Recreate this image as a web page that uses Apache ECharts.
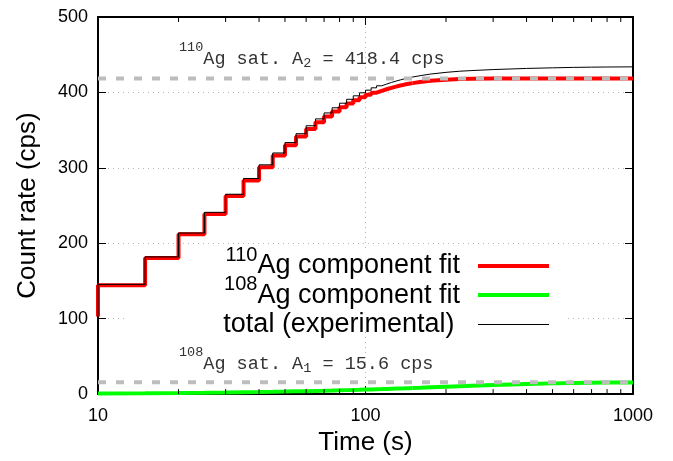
<!DOCTYPE html>
<html>
<head>
<meta charset="utf-8">
<script src="https://cdn.jsdelivr.net/npm/echarts@6/dist/echarts.min.js"></script>
<style>html,body{margin:0;padding:0;background:#fff;}#c{width:673px;height:461px;}</style>
</head>
<body>
<div id="c"></div>
<script>
// ---- data ----
const stepTimes = [10,15,20,25,30,35,40,45,50,55,60,65,70,75,80,85,90,95,100,105,110,115,120,125,130,135,140,145,150];
const ag110Step = [102.9,144.4,180.5,211.8,238.9,262.6,283.1,300.9,316.3,329.8,341.4,351.6,360.4,368.0,374.6,380.4,385.4,389.7,393.5,396.8,399.6,402.1,404.2,406.1,407.7,409.1,410.4,411.4,412.3];
const ag108Step = [0.74,1.10,1.44,1.78,2.11,2.44,2.75,3.06,3.36,3.66,3.94,4.22,4.49,4.76,5.02,5.27,5.52,5.76,6.00,6.23,6.45,6.67,6.89,7.10,7.30,7.50,7.69,7.88,8.07];
const totalStep = [103.6,145.5,181.9,213.6,241.0,265.0,285.9,304.0,319.7,333.5,345.3,355.8,364.9,372.8,379.6,385.7,390.9,395.5,399.5,403.0,406.1,408.8,411.1,413.2,415.0,416.6,418.1,419.3,420.4];
const tailTimes = [150,160,175,200,225,250,300,350,400,500,600,700,800,1000];
const ag110Tail = [412.3,413.8,415.4,416.9,417.7,418.0,418.3,418.4,418.4,418.4,418.4,418.4,418.4,418.4];
const ag108Tail = [8.07,8.42,8.93,9.69,10.37,10.96,11.96,12.75,13.36,14.22,14.75,15.08,15.28,15.48];
const totalTail = [420.4,422.2,424.3,426.6,428.1,429.0,430.3,431.1,431.8,432.6,433.2,433.5,433.7,433.9];
const satA2 = 418.4;
const satA1 = 15.6;
const xRange = [10, 1000];
const yTicks = [0, 100, 200, 300, 400, 500];
const minorXTicks = [20,30,40,50,60,70,80,90,200,300,400,500,600,700,800,900];
const seriesNames = ['110Ag component fit', '108Ag component fit', 'total (experimental)'];

const pairs = (xs, ys) => xs.map((x, i) => [x, ys[i]]);

const SANS = '"Liberation Sans", Arial, sans-serif';
const MONO = '"Liberation Mono", "Courier New", monospace';

const chart = echarts.init(document.getElementById('c'), null, {renderer: 'canvas'});

const legendRich = {
  n: {fontSize: 27, fontFamily: SANS, color: '#000', lineHeight: 27, verticalAlign: 'bottom'},
  s: {fontSize: 20, fontFamily: SANS, color: '#000', lineHeight: 20, padding: [0,0,14,0], verticalAlign: 'bottom'}
};
function legendFmt(name) {
  if (name.indexOf('110Ag') === 0) return '{s|110}{n|Ag component fit}';
  if (name.indexOf('108Ag') === 0) return '{s|108}{n|Ag component fit}';
  return '{n|' + name + '}{s| }';
}
function mkLegend(name, top, h) {
  return {
    data: [{name: name, icon: 'rect'}],
    right: 124, top: top, padding: 0,
    align: 'right', orient: 'vertical',
    itemWidth: 71, itemHeight: h,
    selectedMode: false,
    itemStyle: {borderWidth: 0},
    formatter: legendFmt,
    textStyle: {padding: [0, 13, 0, 0], rich: legendRich}
  };
}

const axisCommonX = {
  type: 'log', logBase: 10, min: xRange[0], max: xRange[1],
  axisLine: {show: true, onZero: false, lineStyle: {color: '#000', width: 2}},
  axisTick: {show: true, inside: true, length: 8, lineStyle: {color: '#000', width: 1}},
  minorTick: {show: false}
};
const axisCommonY = {
  type: 'value', min: yTicks[0], max: yTicks[yTicks.length - 1], interval: 100,
  axisLine: {show: true, onZero: false, lineStyle: {color: '#000', width: 2}},
  axisTick: {show: true, inside: true, length: 8, lineStyle: {color: '#000', width: 1}}
};
const gridLine = {show: true, lineStyle: {color: '#b4b4b4', width: 1, type: [1, 4]}};

const annRich = {
  n: {fontSize: 18.5, fontFamily: MONO, fill: '#333', lineHeight: 20, padding: [0,0,4,0], verticalAlign: 'bottom'},
  s: {fontSize: 13.5, fontFamily: MONO, fill: '#333', lineHeight: 14, padding: [0,0,18,0], verticalAlign: 'bottom'},
  b: {fontSize: 13.5, fontFamily: MONO, fill: '#333', lineHeight: 14, padding: [0,0,2,0], verticalAlign: 'bottom'}
};

const option = {
  backgroundColor: '#fff',
  animation: false,
  grid: {left: 98, right: 40, top: 17, bottom: 61, containLabel: false},
  xAxis: [
    Object.assign({}, axisCommonX, {
      position: 'bottom',
      name: 'Time (s)', nameLocation: 'middle', nameGap: 22,
      nameTextStyle: {fontSize: 26, fontFamily: SANS, color: '#000'},
      axisLabel: {show: true, margin: 13, fontSize: 18, fontFamily: SANS, color: '#000',
                  formatter: function (v) { return String(Math.round(v)); }},
      splitLine: gridLine
    }),
    Object.assign({}, axisCommonX, {
      position: 'top', axisLabel: {show: false}, splitLine: {show: false}
    })
  ],
  yAxis: [
    Object.assign({}, axisCommonY, {
      position: 'left',
      name: 'Count rate (cps)', nameLocation: 'middle', nameGap: 57,
      nameTextStyle: {fontSize: 26, fontFamily: SANS, color: '#000'},
      axisLabel: {show: true, margin: 10, fontSize: 18, fontFamily: SANS, color: '#000'},
      splitLine: gridLine
    }),
    Object.assign({}, axisCommonY, {
      position: 'right', axisLabel: {show: false}, splitLine: {show: false}
    })
  ],
  legend: [
    mkLegend(seriesNames[0], 245.4, 4),
    mkLegend(seriesNames[1], 274.6, 4),
    mkLegend(seriesNames[2], 304, 1)
  ],
  graphic: [
    {type: 'rect', z: 1, silent: true, shape: {x: 128, y: 250, width: 440, height: 80}, style: {fill: '#fff'}},
    {type: 'text', z: 10, silent: true, x: 179, y: 72.5,
     style: {text: '{s|110}{n|Ag sat. A}{b|2}{n| = 418.4 cps}', rich: annRich, align: 'left', verticalAlign: 'bottom'}},
    {type: 'text', z: 10, silent: true, x: 179, y: 377.8,
     style: {text: '{s|108}{n|Ag sat. A}{b|1}{n| = 15.6 cps}', rich: annRich, align: 'left', verticalAlign: 'bottom'}}
  ],
  series: [
    {name: seriesNames[0], type: 'line', step: 'start', symbol: 'none', z: 2, color: '#ff0000',
     lineStyle: {color: '#ff0000', width: 4}, data: pairs(stepTimes, ag110Step)},
    {name: '110tail', type: 'line', symbol: 'none', z: 2, color: '#ff0000',
     lineStyle: {color: '#ff0000', width: 4}, data: pairs(tailTimes, ag110Tail)},
    {name: seriesNames[1], type: 'line', step: 'start', symbol: 'none', z: 2, color: '#00ff00',
     lineStyle: {color: '#00ff00', width: 4}, data: pairs(stepTimes, ag108Step)},
    {name: '108tail', type: 'line', symbol: 'none', z: 2, color: '#00ff00',
     lineStyle: {color: '#00ff00', width: 4}, data: pairs(tailTimes, ag108Tail)},
    {name: seriesNames[2], type: 'line', step: 'start', symbol: 'none', z: 3, color: '#000000',
     lineStyle: {color: '#000', width: 1}, data: pairs(stepTimes, totalStep)},
    {name: 'totaltail', type: 'line', symbol: 'none', z: 3, color: '#000000',
     lineStyle: {color: '#000', width: 1}, data: pairs(tailTimes, totalTail)},
    {name: 'satA2', type: 'line', symbol: 'none', z: 4, silent: true,
     lineStyle: {color: '#bdbdbd', width: 4, type: [8, 10]}, data: pairs(xRange, [satA2, satA2])},
    {name: 'satA1', type: 'line', symbol: 'none', z: 4, silent: true,
     lineStyle: {color: '#bdbdbd', width: 4, type: [8, 10]}, data: pairs(xRange, [satA1, satA1])},
    {name: 'minorTicks', type: 'custom', z: 6, silent: true, clip: false,
     data: minorXTicks.map(v => [v, 0]),
     encode: {x: 0, y: 1},
     renderItem: function (params, api) {
       const v = api.value(0);
       const pb = api.coord([v, yTicks[0]]);
       const pt = api.coord([v, yTicks[yTicks.length - 1]]);
       const st = {stroke: '#000', lineWidth: 1};
       return {type: 'group', children: [
         {type: 'line', shape: {x1: pb[0], y1: pb[1], x2: pb[0], y2: pb[1] - 5}, style: st},
         {type: 'line', shape: {x1: pt[0], y1: pt[1], x2: pt[0], y2: pt[1] + 5}, style: st}
       ]};
     }}
  ]
};
chart.setOption(option);
</script>
</body>
</html>
